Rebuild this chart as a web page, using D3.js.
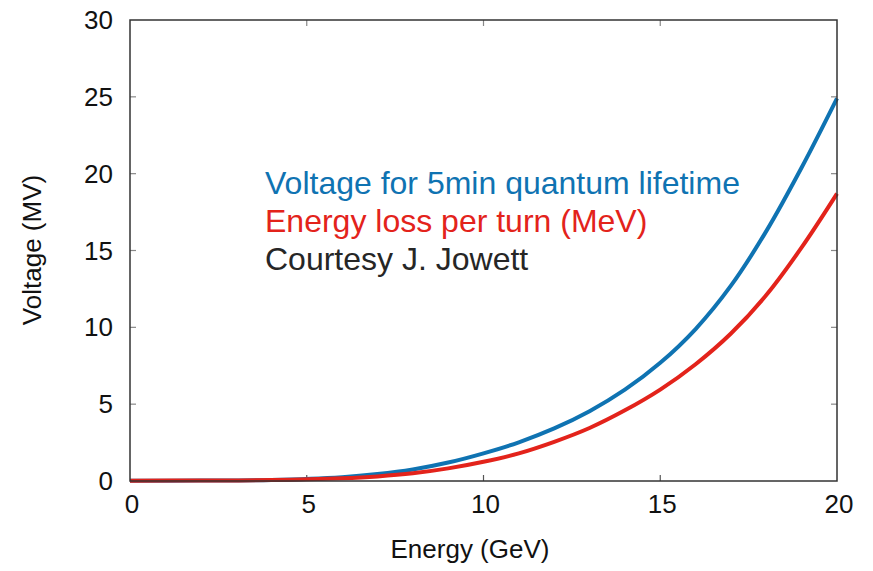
<!DOCTYPE html>
<html>
<head>
<meta charset="utf-8">
<script src="https://cdn.jsdelivr.net/npm/d3@7"></script>
<style>
body{margin:0;background:#fff;}
text{font-family:"Liberation Sans",Arial,sans-serif;}
</style>
</head>
<body>
<script>
// 数据
let energy=[0,2,4,6,7,8,9,10,11,12,13,14,15,16,17,18,19,20];
let voltage=[0.02,0.03,0.07,0.25,0.45,0.75,1.2,1.8,2.52,3.42,4.54,5.94,7.69,9.89,12.71,16.26,20.4,24.9];
let eloss=[0.02,0.03,0.06,0.18,0.3,0.5,0.82,1.25,1.8,2.55,3.45,4.6,5.95,7.6,9.6,12.1,15.2,18.7];
let xTicks=[0,5,10,15,20];
let yTicks=[0,5,10,15,20,25,30];
let legend=[
    {text:"Voltage for 5min quantum lifetime",color:"#0f73b2"},
    {text:"Energy loss per turn (MeV)",color:"#e3231b"},
    {text:"Courtesy J. Jowett",color:"#262626"}
];

// 画布
let width=873,height=571;
let m={left:130,right:36,top:20,bottom:90};
let svg=d3.select("body").append("svg").attr("width",width).attr("height",height);

let x=d3.scaleLinear().domain([0,20]).range([m.left,width-m.right]);
let y=d3.scaleLinear().domain([0,30]).range([height-m.bottom,m.top]);

// 刻度线（向内）
let tk=6;
svg.append("g").selectAll("line").data(xTicks.slice(1,-1)).enter().append("line")
    .attr("x1",d=>x(d)).attr("x2",d=>x(d))
    .attr("y1",y(0)).attr("y2",y(0)-tk)
    .attr("stroke","#555").attr("stroke-width",1.2);
svg.append("g").selectAll("line").data(xTicks.slice(1,-1)).enter().append("line")
    .attr("x1",d=>x(d)).attr("x2",d=>x(d))
    .attr("y1",y(30)).attr("y2",y(30)+tk)
    .attr("stroke","#888").attr("stroke-width",1.2);
svg.append("g").selectAll("line").data(yTicks.slice(1,-1)).enter().append("line")
    .attr("x1",x(0)).attr("x2",x(0)+tk)
    .attr("y1",d=>y(d)).attr("y2",d=>y(d))
    .attr("stroke","#888").attr("stroke-width",1.2);
svg.append("g").selectAll("line").data(yTicks.slice(1,-1)).enter().append("line")
    .attr("x1",x(20)).attr("x2",x(20)-tk)
    .attr("y1",d=>y(d)).attr("y2",d=>y(d))
    .attr("stroke","#888").attr("stroke-width",1.2);

// 刻度标签
svg.append("g").selectAll("text").data(xTicks).enter().append("text")
    .attr("x",d=>x(d)+2).attr("y",y(0)+32)
    .attr("text-anchor","middle").attr("font-size",26).attr("fill","#111")
    .text(d=>d);
svg.append("g").selectAll("text").data(yTicks).enter().append("text")
    .attr("x",x(0)-17).attr("y",d=>y(d)+9)
    .attr("text-anchor","end").attr("font-size",26).attr("fill","#111")
    .text(d=>d);

// 轴标题
svg.append("text").attr("x",470).attr("y",558)
    .attr("text-anchor","middle").attr("font-size",26).attr("fill","#111")
    .text("Energy (GeV)");
svg.append("text").attr("transform","translate(41,250) rotate(-90)")
    .attr("text-anchor","middle").attr("font-size",26).attr("fill","#111")
    .text("Voltage (MV)");

// 曲线
let line=d3.line().x((d,i)=>x(energy[i])).y(d=>y(d)).curve(d3.curveCatmullRom.alpha(0.5));
svg.append("path").datum(voltage).attr("d",line)
    .attr("fill","none").attr("stroke","#0f73b2").attr("stroke-width",4);
svg.append("path").datum(eloss).attr("d",line)
    .attr("fill","none").attr("stroke","#e3231b").attr("stroke-width",4);

// 边框
svg.append("rect").attr("x",x(0)).attr("y",y(30))
    .attr("width",x(20)-x(0)).attr("height",y(0)-y(30))
    .attr("fill","none").attr("stroke","#333").attr("stroke-width",1.5);

// 图例文字
svg.append("g").selectAll("text").data(legend).enter().append("text")
    .attr("x",265).attr("y",(d,i)=>194+i*38)
    .attr("font-size",32).attr("fill",d=>d.color)
    .text(d=>d.text);
</script>
</body>
</html>
